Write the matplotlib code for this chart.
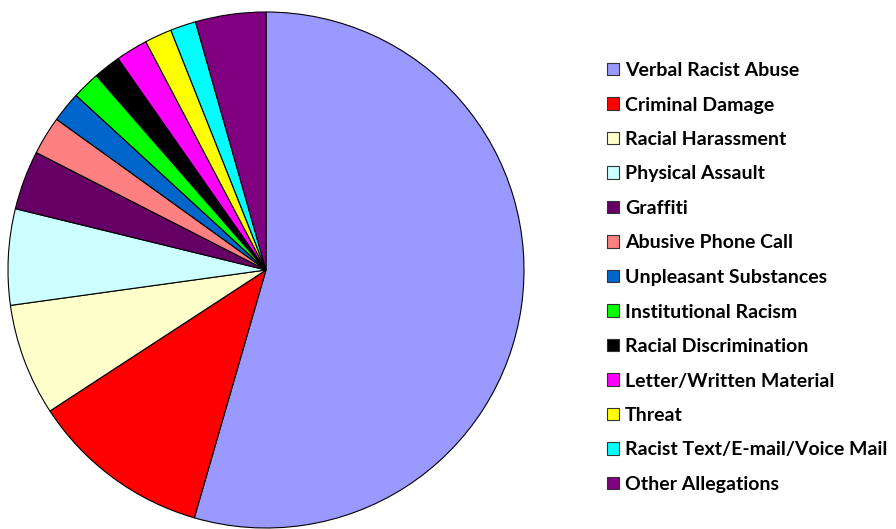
import matplotlib
matplotlib.use("Agg")
import matplotlib.pyplot as plt
from matplotlib.patches import Patch

# Allegation categories and their share (%)
categories = ["Verbal Racist Abuse", "Criminal Damage", "Racial Harassment",
              "Physical Assault", "Graffiti", "Abusive Phone Call",
              "Unpleasant Substances", "Institutional Racism",
              "Racial Discrimination", "Letter/Written Material", "Threat",
              "Racist Text/E-mail/Voice Mail", "Other Allegations"]
shares = [54.4, 11.3, 7.0, 6.0, 3.7, 2.4, 1.9, 1.75, 1.7, 2.0, 1.7, 1.6, 4.4]
colors = ["#9999FF", "#FF0000", "#FFFFCC", "#CCFFFF", "#660066", "#FF8080",
          "#0066CC", "#00FF00", "#000000", "#FF00FF", "#FFFF00", "#00FFFF",
          "#800080"]

W, H = 896, 529
fig = plt.figure(figsize=(W / 100, H / 100), dpi=100)

cx, cy, r = 266, 270, 258
ax = fig.add_axes([(cx - r) / W, (H - cy - r) / H, 2 * r / W, 2 * r / H])
wedges, _ = ax.pie(shares, colors=colors, startangle=90, counterclock=False,
                   wedgeprops=dict(edgecolor="black", linewidth=0.8))
for w in wedges:
    w.set_clip_on(False)
ax.set_xlim(-1, 1)
ax.set_ylim(-1, 1)
ax.set_aspect("equal")
ax.axis("off")

handles = [Patch(facecolor=c, edgecolor="#333333", linewidth=0.8) for c in colors]
fig.legend(handles, categories, loc="upper left",
           bbox_to_anchor=(607 / W, 1 - 62 / H), frameon=False,
           prop=dict(family="Lato", weight="bold", size=14),
           handlelength=0.62, handleheight=0.62, handletextpad=0.3,
           labelspacing=0.9, borderpad=0, borderaxespad=0)

fig.savefig("out.png", dpi=100)
